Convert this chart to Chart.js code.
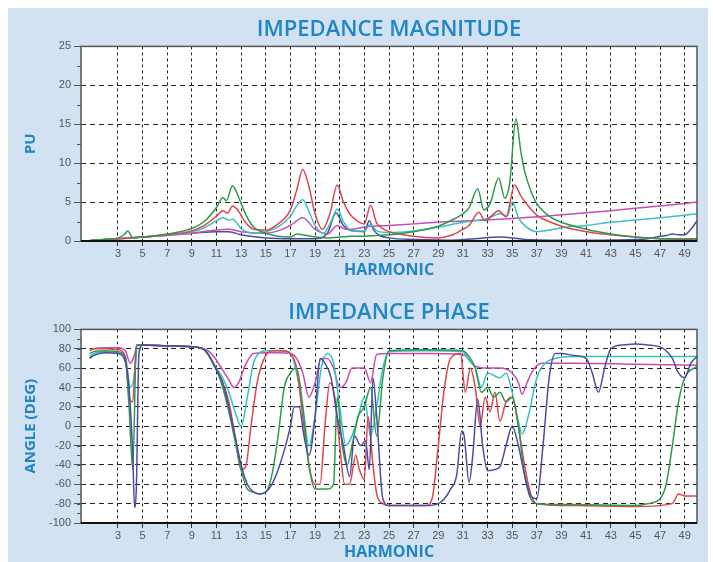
<!DOCTYPE html>
<html><head><meta charset="utf-8">
<script src="https://cdn.jsdelivr.net/npm/chart.js@4/dist/chart.umd.min.js"></script>
<style>
html,body{margin:0;padding:0;background:#fff;width:713px;height:562px;overflow:hidden;}
#bg{position:absolute;left:8px;top:8px;width:700px;height:554px;background:#d3e2f2;}
#c1{position:absolute;left:8px;top:8px;}
#c2{position:absolute;left:8px;top:285px;}
</style></head><body>
<div id="bg"></div>
<canvas id="c1" width="700" height="275"></canvas>
<canvas id="c2" width="700" height="277"></canvas>
<script>
// ---------- tick labels ----------
const XTICKS = [3,5,7,9,11,13,15,17,19,21,23,25,27,29,31,33,35,37,39,41,43,45,47,49];

// ---------- IMPEDANCE MAGNITUDE (PU) ----------
const magGreenH = [0.5,1,2,3,3.5,3.8,4.2,5,7,9,10,11,11.5,11.8,12.3,12.7,13,13.5,14,15,16,17,17.5,18,19,20,21,22,23,24,25,27,29,30,31,31.5,32.2,32.7,33.2,33.9,34.4,34.8,35.3,35.7,36,36.5,37,38,39,41,43,45,47,49,50];
const magGreenV = [0,0.1,0.2,0.4,0.8,1.3,0.4,0.5,0.9,1.6,2.5,4.3,5.6,5.2,7.1,6.0,4.8,3.0,1.8,1.0,0.6,0.5,0.9,0.8,0.5,0.4,0.5,0.6,0.6,0.7,0.8,1.2,1.9,2.6,3.5,4.3,6.7,4.0,4.8,8.1,5.5,7.5,15.7,11.5,9.0,6.5,4.8,3.2,2.4,1.5,0.9,0.5,0.3,0.2,0.2];
const magRedH = [0.5,1,2,3,4,5,7,9,10,11,11.5,11.9,12.3,12.8,13.3,14,15,16,17,17.5,18,18.5,19,19.6,20.2,20.8,21.3,21.8,22.5,23,23.5,24,24.5,25,27,29,30,31,31.5,32.3,32.8,33.3,33.9,34.5,35.2,35.7,36.3,37,38,39,41,43,45,47,49,50];
const magRedV = [0,0.1,0.2,0.3,0.4,0.5,0.8,1.3,2.0,3.2,3.9,3.6,4.5,3.8,2.5,1.5,1.4,2.2,4.0,6.5,9.2,7.0,3.5,1.5,3.5,7.2,5.0,3.5,2.5,2.2,4.6,2.3,1.6,1.2,0.6,0.4,0.7,1.5,2.0,3.7,2.6,3.2,3.9,3.1,7.2,5.8,4.5,3.3,2.5,1.9,1.2,0.8,0.5,0.3,0.3,0.3];
const magCyanH = [0.5,1,3,5,7,9,10,11,11.5,12,12.3,13,14,15,16,17,17.5,18,18.5,19,19.7,20.3,20.8,21.3,22,23,23.5,24,25,27,29,31,33,34,34.6,35,35.5,36,37,38,39,41,43,45,47,49,50];
const magCyanV = [0,0.1,0.3,0.5,0.8,1.2,1.7,2.6,3.0,2.7,2.8,1.6,1.0,1.2,1.8,3.2,4.5,5.3,3.8,2.0,1.0,2.5,4.1,2.5,1.3,1.3,2.2,1.3,1.1,1.3,1.8,2.4,2.9,3.5,3.2,5.0,3.0,2.0,1.2,1.4,1.7,2.0,2.4,2.7,3.0,3.3,3.5];
const magPinkH = [0.5,1,3,5,7,9,11,12,13,15,16,17,18,19,20,20.8,21.5,22,23,25,27,30,33,35,37,40,43,45,47,50];
const magPinkV = [0,0.1,0.3,0.5,0.7,1.0,1.4,1.5,1.2,1.0,1.3,2.0,3.0,1.5,0.9,2.0,1.5,1.5,1.8,2.0,2.2,2.5,2.7,2.9,3.1,3.5,3.9,4.2,4.5,5.0];
const magBlueH = [0.5,1,3,5,7,9,11,12,13,15,17,19,20,20.7,21.3,22,23,23.4,23.8,25,27,30,32,34,35,36,40,45,46,47,47.5,48,48.5,49,49.5,50];
const magBlueV = [0,0.1,0.3,0.5,0.8,1.0,1.2,1.2,0.8,0.4,0.3,0.3,1.0,3.6,2.0,1.3,1.2,2.6,1.3,0.4,0.2,0.1,0.3,0.5,0.4,0.2,0.1,0.2,0.3,0.6,0.7,0.9,0.8,0.8,1.5,2.6];

// ---------- IMPEDANCE PHASE (DEG) ----------
const phPinkH = [0.7,1,2,3,3.6,4.0,4.3,4.6,5,7,9,10,10.5,11,11.5,12,12.4,12.8,13.3,14,15,16,17,17.5,18,18.5,19,19.5,20,20.5,21,21.5,22,23,23.5,24,25,28,31,32,33,34,35,35.5,35.8,36.2,36.8,37.5,40,45,50];
const phPinkV = [78,80,81,81,78,65,72,84,84,83,82,80,76,68,58,48,40,45,62,75,76,76,75,70,55,30,45,70,70,60,40,45,60,60,45,74,75,75,74,62,60,60,55,45,33,45,60,65,65,64,63];
const phCyanH = [0.7,1,2,3,3.6,4.0,4.3,4.6,5,7,9,10,11,11.5,12,12.5,13,13.5,14,14.5,15,16,17,17.5,18,18.5,19,19.5,20,20.5,21,21.5,22,22.5,23,23.5,24,24.5,25,28,31,31.5,32,32.5,33,34,34.5,35,35.5,35.8,36.3,37,38,40,45,50];
const phCyanV = [72,75,77,76,72,40,50,84,84,83,82,79,60,50,35,15,0,30,65,76,78,78,75,55,20,-20,10,60,75,65,20,-20,-10,10,30,-10,20,60,77,78,77,68,60,40,55,50,55,35,5,-8,10,50,68,72,72,72];
const phRedH = [0.7,1,2,3,3.6,3.9,4.2,4.5,5,7,9,10,11,11.5,12,12.5,13,13.4,13.8,14.3,14.8,15.5,16.5,17,17.5,18,18.5,19,19.4,19.8,20.2,20.6,21,21.4,21.8,22.3,22.6,23,23.3,23.7,24,24.5,25,28,28.5,29,29.5,30,30.8,31.2,31.6,32,32.4,32.8,33.2,33.6,34,34.5,35,35.5,36,36.5,37,40,45,48,48.5,49,50];
const phRedV = [78,80,80,79,72,30,25,84,84,83,82,79,58,45,25,-10,-45,-40,0,45,68,78,78,75,60,10,-40,-60,-60,0,45,30,-20,-60,-60,-30,-45,-55,10,-40,-70,-80,-82,-82,-75,-20,40,70,75,35,60,40,0,30,15,35,5,25,30,0,-40,-70,-80,-82,-83,-80,-70,-72,-72];
const phGreenH = [0.7,1,2,3,3.6,3.9,4.2,4.5,5,7,9,10,11,11.5,12,12.5,13,13.5,14,14.5,15,15.5,16,16.5,17,17.5,18,18.5,19,19.5,20,20.5,20.8,21.2,21.6,22,22.5,23,23.5,24,24.5,25,28,31,31.5,32,32.5,33,33.5,34,34.5,35,35.5,36,36.5,37,40,45,46,47,47.5,48,48.5,49,50];
const phGreenV = [75,77,78,77,70,20,-45,84,84,83,82,79,58,40,15,-15,-45,-65,-68,-70,-68,-50,-10,40,55,60,20,-40,-65,-65,-65,-60,30,-20,-40,-20,10,20,40,-10,50,78,79,78,72,60,35,40,30,35,25,30,0,-50,-75,-80,-81,-82,-80,-75,-60,-20,25,50,62];
const phBlueH = [0.7,1,2,3,3.5,3.9,4.2,4.35,4.5,4.7,5,7,9,10,11,11.5,12,12.5,13,13.5,14,14.5,15,15.5,16,16.5,17,17.3,17.7,18.1,18.5,19,19.4,19.8,20.3,20.8,21.3,21.8,22.2,22.7,23.1,23.4,23.7,24,24.5,25,28,29,29.5,30,30.5,30.9,31.1,31.5,31.8,32.2,32.6,33,33.5,34,34.5,35,35.5,36,36.5,37,37.5,38,38.5,39,40,41,41.5,42,42.5,43,44,45,46,47,47.5,48,48.5,49,49.5,50];
const phBlueV = [70,73,76,75,70,40,-30,-84,-60,75,84,83,82,79,58,45,20,-10,-40,-60,-68,-70,-68,-60,-45,-25,0,20,20,-10,-30,10,70,65,50,10,-20,-52,-10,-20,-15,-45,50,10,-75,-82,-82,-80,-75,-65,-50,-5,-10,-58,-30,28,-20,-46,-45,-42,-20,0,-20,-50,-72,-75,-20,50,75,75,73,70,55,35,60,80,84,85,84,82,78,70,55,50,65,72];

// ---------- styling ----------
const COL = {green:'#2f9a4a', red:'#e0444e', cyan:'#35c2c4', pink:'#c84cb4', blue:'#4b4ba6'};
const BLUE_TXT = '#1f86c6';
const TICK_FONT = {family:'"Liberation Sans", Arial, sans-serif', size:11};

function pts(H, V){ return H.map((h,i)=>({x:h, y:V[i]})); }
function ds(label, H, V, color){
  return {label, data: pts(H,V), borderColor: color, backgroundColor: color,
    borderWidth: 1.5, pointRadius: 0, cubicInterpolationMode: 'monotone', fill: false};
}

const framePlugin = {
  id: 'frame',
  beforeDraw(chart){
    const a = chart.chartArea, c = chart.ctx;
    c.save(); c.fillStyle = '#ffffff'; c.fillRect(a.left, a.top, a.right-a.left, a.bottom-a.top); c.restore();
  },
  afterDatasetsDraw(chart, args, opts){
    const a = chart.chartArea, c = chart.ctx, y = chart.scales.y;
    c.save();
    c.strokeStyle = '#555'; c.lineWidth = 1.5;
    c.strokeRect(a.left, a.top, a.right-a.left, a.bottom-a.top);
    c.strokeStyle = '#111'; c.lineWidth = 2;
    c.beginPath(); c.moveTo(a.left, a.bottom); c.lineTo(a.right, a.bottom); c.stroke();
    c.strokeStyle = '#555'; c.lineWidth = 1;
    for (let v = y.min; v <= y.max; v += opts.minor){
      const py = Math.round(y.getPixelForValue(v)) + 0.5;
      c.beginPath(); c.moveTo(a.left-4, py); c.lineTo(a.left, py); c.stroke();
    }
    c.restore();
  }
};

function makeChart(id, title, yTitle, datasets, ymin, ymax, ystep, minor, titlePadTop, xHeight, xTitlePadBottom){
  return new Chart(document.getElementById(id), {
    type: 'line',
    data: { datasets },
    plugins: [framePlugin],
    options: {
      responsive: false, animation: false, devicePixelRatio: 1,
      layout: { padding: { right: 11, left: 0, bottom: 0, top: 0 } },
      plugins: {
        legend: { display: false }, tooltip: { enabled: false },
        title: { display: true, text: title, color: BLUE_TXT, fullSize: false,
          font: { family: '"Open Sans", sans-serif', size: 22, weight: '600' },
          padding: { top: titlePadTop, bottom: 3 } },
        frame: { minor }
      },
      scales: {
        x: {
          type: 'linear', min: 0, max: 50,
          afterBuildTicks: s => { s.ticks = XTICKS.map(v => ({ value: v })); },
          afterFit: s => { s.height = xHeight; },
          ticks: { color: '#555', font: TICK_FONT, padding: 1, maxRotation: 0, autoSkip: false,
            callback: v => String(v) },
          grid: { color: '#222', lineWidth: 1, tickLength: 5, tickColor: '#333' },
          border: { display: false, dash: [3, 3] },
          title: { display: true, text: 'HARMONIC', color: BLUE_TXT,
            font: { family: '"Open Sans", sans-serif', size: 16, weight: '700' }, padding: { top: 0, bottom: xTitlePadBottom } }
        },
        y: {
          min: ymin, max: ymax,
          afterFit: s => { s.width = 73; },
          ticks: { stepSize: ystep, color: '#555', font: TICK_FONT, padding: 3 },
          grid: { color: '#222', lineWidth: 1, tickLength: 7, tickColor: '#555' },
          border: { display: false, dash: [5, 4] },
          title: { display: true, text: yTitle, color: BLUE_TXT,
            font: { family: '"Open Sans", sans-serif', size: 15, weight: '700' }, padding: { top: 14, bottom: 0 } }
        }
      }
    }
  });
}

makeChart('c1', 'IMPEDANCE MAGNITUDE', 'PU', [
  ds('Green', magGreenH, magGreenV, COL.green),
  ds('Red', magRedH, magRedV, COL.red),
  ds('Cyan', magCyanH, magCyanV, COL.cyan),
  ds('Magenta', magPinkH, magPinkV, COL.pink),
  ds('Blue', magBlueH, magBlueV, COL.blue)
], 0, 25, 5, 2.5, 9, 42, 3);

makeChart('c2', 'IMPEDANCE PHASE', 'ANGLE (DEG)', [
  ds('Blue', phBlueH, phBlueV, COL.blue),
  ds('Green', phGreenH, phGreenV, COL.green),
  ds('Red', phRedH, phRedV, COL.red),
  ds('Cyan', phCyanH, phCyanV, COL.cyan),
  ds('Magenta', phPinkH, phPinkV, COL.pink)
], -100, 100, 20, 10, 15, 39, 0);
</script>
</body></html>
